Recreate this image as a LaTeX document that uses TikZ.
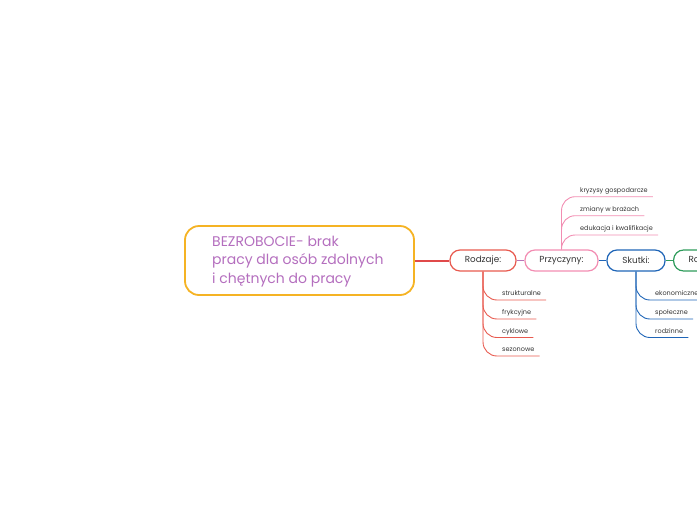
\documentclass[tikz,border=0pt]{standalone}
\usepackage{fontspec}
\setmainfont{Poppins}
\definecolor{mainborder}{HTML}{F5B324}
\definecolor{maintext}{HTML}{B46EBE}
\definecolor{cred}{HTML}{E85A4F}
\definecolor{cline}{HTML}{E04A4A}
\definecolor{cpurp}{HTML}{B874B8}
\definecolor{cpink}{HTML}{F28DB2}
\definecolor{cblue}{HTML}{1F65B7}
\definecolor{cgreen}{HTML}{2E9B5B}
\definecolor{ctext}{HTML}{333333}
\begin{document}
\begin{tikzpicture}[x=1pt,y=-1pt,
  topic/.style={draw, line width=1.2pt, rounded corners=10pt, minimum height=21pt, inner sep=0pt, text=ctext, font=\fontsize{8.8}{10}\selectfont},
  leaf/.style={anchor=south west, inner xsep=5pt, inner ysep=2.5pt, text height=5pt, text depth=1.5pt, text=ctext, font=\fontsize{6.5}{7}\selectfont},
  branch/.style={line width=0.9pt}
]
\useasboundingbox (0,0) rectangle (697,520);
\clip (0,0) rectangle (697,520);
% central topic
\node[draw=mainborder, line width=1.8pt, rounded corners=14pt, minimum width=229pt, minimum height=69pt, inner sep=0pt] (main) at (299.5,260.5) {};
\node[anchor=west, inner sep=0pt, align=left, text=maintext, font=\fontsize{14}{18.5}\selectfont] (maint) at (212,261.5) {BEZROBOCIE- brak\\pracy dla osób zdolnych\\i chętnych do pracy};
% topics
\node[topic, draw=cred, minimum width=66pt] (rodz) at (483,260.5) {Rodzaje:};
\node[topic, draw=cpink, minimum width=73pt] (przy) at (561.5,260.5) {Przyczyny:};
\node[topic, draw=cblue, minimum width=58pt] (skut) at (636,260.5) {Skutki:};
\node[topic, draw=cgreen, anchor=west, inner xsep=15pt, align=left] (rozw) at (673,260.5) {Rozwiązania:};
% topic connectors
\draw[cline, line width=2pt] (main.east) -- (rodz.west);
\draw[cpurp, line width=1.5pt] (rodz.east) -- (przy.west);
\draw[cblue, line width=1.5pt] (przy.east) -- (skut.west);
\draw[cgreen, line width=1.5pt] (skut.east) -- (rozw.west);
% Rodzaje children
\node[leaf] (r1) at (497,300) {strukturalne};
\node[leaf] (r2) at (497,319) {frykcyjne};
\node[leaf] (r3) at (497,337.5) {cyklowe};
\node[leaf] (r4) at (497,356) {sezonowe};
\foreach \n in {r1,r2,r3,r4}
  \draw[branch, cred] (rodz.south) -- ([yshift=14pt]\n.south west -| rodz.south) to[out=-90,in=180] (\n.south west) -- (\n.south east);
% Przyczyny children
\node[leaf] (p1) at (575,196.7) {kryzysy gospodarcze};
\node[leaf] (p2) at (575,215.7) {zmiany w brażach};
\node[leaf] (p3) at (575,235) {edukacja i kwalifikacje};
\foreach \n in {p1,p2,p3}
  \draw[branch, cpink] (przy.north) -- ([yshift=-14pt]\n.south west -| przy.north) to[out=90,in=180] (\n.south west) -- (\n.south east);
% Skutki children
\node[leaf] (s1) at (650,300) {ekonomiczne};
\node[leaf] (s2) at (650,319) {społeczne};
\node[leaf] (s3) at (650,337.5) {rodzinne};
\foreach \n in {s1,s2,s3}
  \draw[branch, cblue] (skut.south) -- ([yshift=14pt]\n.south west -| skut.south) to[out=-90,in=180] (\n.south west) -- (\n.south east);
\end{tikzpicture}
\end{document}
